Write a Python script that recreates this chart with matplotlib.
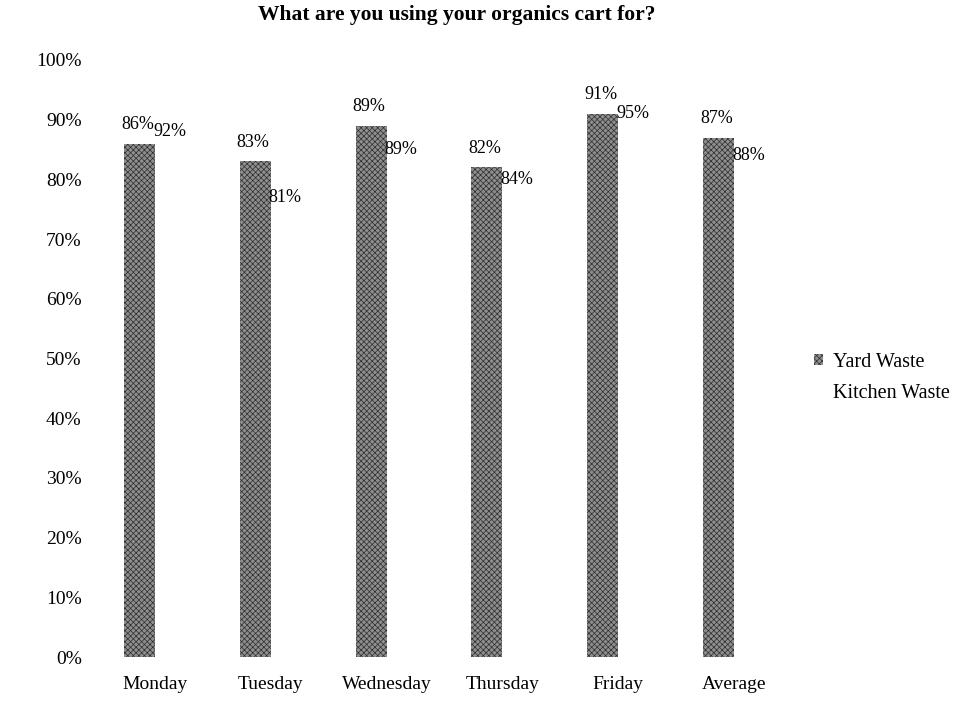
import matplotlib
matplotlib.use("Agg")
import matplotlib.pyplot as plt
import numpy as np
from matplotlib.patches import Patch

days = ["Monday", "Tuesday", "Wednesday", "Thursday", "Friday", "Average"]
yard_waste = [86, 83, 89, 82, 91, 87]
kitchen_waste = [92, 81, 89, 84, 95, 88]
y_ticks = [0, 10, 20, 30, 40, 50, 60, 70, 80, 90, 100]
y_tick_labels = [f"{t}%" for t in y_ticks]

plt.rcParams["font.family"] = ["Liberation Serif", "DejaVu Serif"]
plt.rcParams["hatch.linewidth"] = 0.5

W, H = 966, 702
fig = plt.figure(figsize=(W / 100, H / 100), dpi=100)
ax = fig.add_axes([97 / W, 45 / H, 695 / W, 597 / H])

x = np.arange(len(days))
bw = 0.268

yard_bars = ax.bar(x - bw / 2, yard_waste, bw, color="#8e8e8e", hatch="xxxxxx",
                   edgecolor="#2e2e2e", linewidth=0, label="Yard Waste")
kitchen_bars = ax.bar(x + bw / 2, kitchen_waste, bw, color="white",
                      edgecolor="white", linewidth=0, label="Kitchen Waste")

for rect, v in zip(yard_bars, yard_waste):
    ax.annotate(f"{v}%", (rect.get_x() + rect.get_width() / 2, v),
                xytext=(-2, 19), textcoords="offset pixels",
                ha="center", va="center", fontsize=13)
for rect, v in zip(kitchen_bars, kitchen_waste):
    ax.annotate(f"{v}%", (rect.get_x() + rect.get_width() / 2, v),
                xytext=(-1, -24), textcoords="offset pixels",
                ha="center", va="center", fontsize=13)

ax.set_xlim(-0.5, len(days) - 0.5)
ax.set_ylim(0, 100)
ax.set_yticks(y_ticks)
ax.set_yticklabels(y_tick_labels, fontsize=14)
ax.set_xticks(x)
ax.set_xticklabels(days, fontsize=14)
ax.tick_params(axis="y", length=0, pad=11)
ax.tick_params(axis="x", length=0, pad=14)
for s in ax.spines.values():
    s.set_visible(False)

fig.text(457 / W, 1 - 15 / H, "What are you using your organics cart for?",
         ha="center", va="center", fontsize=15.5, fontweight="bold")

handles = [Patch(facecolor="#8e8e8e", hatch="xxxxxx", edgecolor="#2e2e2e", linewidth=0),
           Patch(facecolor="white", edgecolor="white")]
fig.legend(handles, ["Yard Waste", "Kitchen Waste"], loc="center left",
           bbox_to_anchor=(796 / W, 1 - 378 / H), frameon=False, fontsize=14.5,
           handlelength=0.45, handleheight=0.45, handletextpad=0.5, labelspacing=0.6)

fig.savefig("out.png", dpi=100)
